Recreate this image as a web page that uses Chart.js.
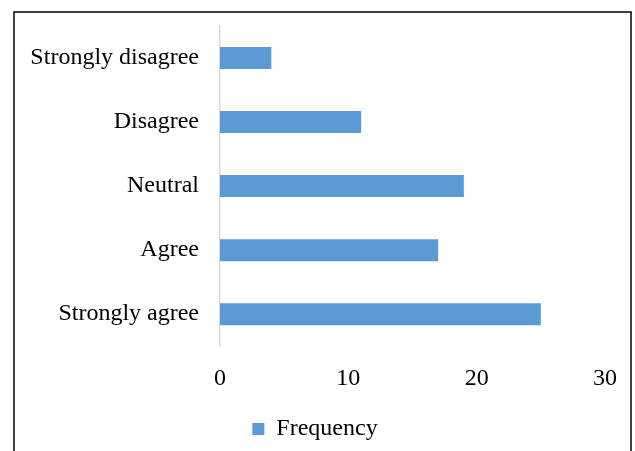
<!DOCTYPE html>
<html>
<head>
<meta charset="utf-8">
<script src="https://cdn.jsdelivr.net/npm/chart.js@4/dist/chart.umd.min.js"></script>
<style>
  html, body { margin: 0; padding: 0; background: #ffffff; }
  #wrap { position: relative; width: 635px; height: 451px; }
</style>
</head>
<body>
<div id="wrap"><canvas id="chart" width="635" height="451"></canvas></div>
<script>
// Survey responses and how many respondents chose each one
const categories = ['Strongly disagree', 'Disagree', 'Neutral', 'Agree', 'Strongly agree'];
const frequency = [4, 11, 19, 17, 25];
const seriesName = 'Frequency';
const xTicks = [0, 10, 20, 30];

const serif = "'Liberation Serif', 'Times New Roman', serif";

// Thin black frame around the whole figure
const framePlugin = {
  id: 'frame',
  afterDraw(chart) {
    const c = chart.ctx;
    c.save();
    c.strokeStyle = '#000000';
    c.lineWidth = 1.5;
    c.strokeRect(14, 12, 617, 460);
    c.restore();
  }
};

new Chart(document.getElementById('chart'), {
  type: 'bar',
  data: {
    labels: categories,
    datasets: [{
      label: seriesName,
      data: frequency,
      backgroundColor: '#5b9bd5',
      borderWidth: 0,
      barPercentage: 0.344,
      categoryPercentage: 1.0
    }]
  },
  options: {
    indexAxis: 'y',
    responsive: false,
    animation: false,
    layout: { padding: { left: 25, right: 30, top: 26, bottom: 0 } },
    scales: {
      x: {
        min: 0,
        max: 30,
        afterBuildTicks(axis) { axis.ticks = xTicks.map(v => ({ value: v })); },
        grid: { display: false, drawTicks: false },
        border: { display: false },
        ticks: {
          color: '#000000',
          font: { family: serif, size: 24 },
          padding: 18
        }
      },
      y: {
        afterFit(axis) {
          axis.width = 195;
          axis.paddingTop = 0;
          axis.paddingBottom = 0;
        },
        grid: { display: false, drawTicks: false },
        border: { display: true, color: '#d9d9d9', width: 1.5 },
        ticks: {
          color: '#000000',
          font: { family: serif, size: 24 },
          padding: 21
        }
      }
    },
    plugins: {
      legend: {
        position: 'bottom',
        labels: {
          color: '#000000',
          font: { family: serif, size: 24 },
          boxWidth: 12,
          boxHeight: 12,
          padding: 6
        }
      },
      tooltip: { enabled: false }
    }
  },
  plugins: [framePlugin]
});
</script>
</body>
</html>
